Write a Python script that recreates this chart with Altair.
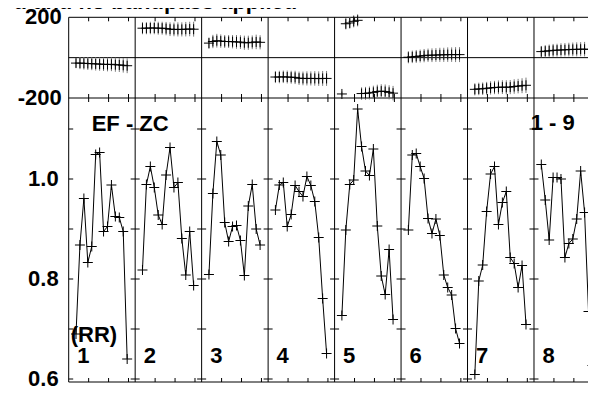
import altair as alt
import pandas as pd

# ---------------- data ----------------
TITLE_TEXT = "d and no bandpass applied"
PANEL_LABELS = ["1", "2", "3", "4", "5", "6", "7", "8"]
LEFT_LABEL = "EF - ZC"
RIGHT_LABEL = "1 - 9"
QUANTITY_LABEL = "(RR)"

# lower panel: ratio values, 14 samples per panel
RR_1 = [0.690, 0.868, 0.961, 0.833, 0.865, 1.049, 1.053, 0.895, 0.905, 0.988, 0.925, 0.923, 0.895, 0.640]
RR_2 = [0.818, 0.989, 1.025, 0.983, 0.928, 0.909, 1.008, 1.063, 0.983, 0.993, 0.881, 0.808, 0.895, 0.787]
RR_3 = [0.809, 0.971, 1.075, 1.048, 0.913, 0.875, 0.905, 0.907, 0.877, 0.807, 0.946, 0.989, 0.900, 0.868]
RR_4 = [0.938, 0.988, 0.993, 0.905, 0.929, 0.987, 0.975, 0.965, 1.005, 0.987, 0.955, 0.883, 0.761, 0.651]
RR_5 = [0.727, 0.898, 0.989, 0.998, 1.140, 1.065, 1.016, 1.007, 1.060, 0.906, 0.806, 0.769, 0.859, 0.719]
RR_6 = [0.898, 1.048, 1.051, 1.025, 1.001, 0.921, 0.891, 0.920, 0.887, 0.808, 0.783, 0.768, 0.701, 0.671]
RR_7 = [0.609, 0.796, 0.828, 0.935, 1.010, 1.025, 0.909, 0.953, 0.975, 0.843, 0.831, 0.783, 0.827, 0.709]
RR_8 = [1.029, 0.958, 0.878, 1.003, 1.003, 1.000, 0.843, 0.871, 0.880, 0.920, 1.016, 0.933, 0.735, 0.627]

# upper panel: phase values (degrees) and their error bars
PH_1 = [-27, -27, -28, -29, -30, -31, -32, -33, -34, -33, -35, -36, -38, -40]
PH_2 = [146, 146, 147, 147, 146, 146, 144, 141, 140, 140, 140, 141, 142, 141]
PH_3 = [72, 80, 84, 82, 80, 80, 79, 78, 77, 74, 74, 76, 78, 76]
PH_4 = [-96, -96, -95, -96, -97, -98, -102, -103, -103, -103, -103, -104, -103, -103]
PH_5 = [-180, 168, 172, 180, 185, -178, -177, -175, -172, -168, -166, -168, -172, -176]
PH_6 = [2, 4, 6, 8, 10, 12, 12, 13, 14, 14, 15, 15, 15, 15]
PH_7 = [-157, -155, -154, -152, -150, -148, -147, -146, -147, -146, -143, -141, -139, -137]
PH_8 = [30, 32, 34, 36, 37, 38, 39, 40, 41, 41, 42, 42, 41, 41]

ERR_1 = [22, 30, 31, 32, 32, 33, 33, 33, 34, 34, 35, 35, 36, 37]
ERR_2 = [30, 30, 31, 31, 32, 32, 33, 34, 34, 35, 35, 36, 36, 37]
ERR_3 = [28, 33, 34, 33, 32, 32, 33, 34, 34, 35, 35, 34, 36, 35]
ERR_4 = [30, 31, 31, 32, 32, 33, 33, 34, 35, 35, 36, 36, 37, 37]
ERR_5 = [12, 28, 28, 30, 30, 31, 32, 32, 33, 34, 34, 35, 35, 36]
ERR_6 = [30, 31, 32, 32, 33, 33, 34, 34, 35, 35, 36, 36, 37, 37]
ERR_7 = [30, 31, 31, 32, 33, 33, 34, 34, 35, 35, 36, 36, 37, 38]
ERR_8 = [28, 30, 31, 32, 32, 33, 33, 34, 34, 35, 35, 36, 36, 37]

BOTTOM_TICKS = [0.6, 0.7, 0.8, 0.9, 1.0, 1.1]
BOTTOM_LABELS = [0.6, 0.8, 1.0]
TOP_LABELS = [200, -200]
TOP_LINES = [200, 0, -200]

RR_COLS = [RR_1, RR_2, RR_3, RR_4, RR_5, RR_6, RR_7, RR_8]
PH_COLS = [PH_1, PH_2, PH_3, PH_4, PH_5, PH_6, PH_7, PH_8]
ERR_COLS = [ERR_1, ERR_2, ERR_3, ERR_4, ERR_5, ERR_6, ERR_7, ERR_8]

# ---------------- layout ----------------
W = 519.3          # svg-contained plot width (px); marks continue to the window edge
W_VIS = 527.3      # plot width visible up to the window edge
H = 364.7          # total plot height (px)
HT = 80.7          # height of the upper panel (px)
PX_PER_UNIT = 6.647
UNITS = W / PX_PER_UNIT
UNITS_VIS = W_VIS / PX_PER_UNIT
COL_W = 10.0       # panel width in x units
S0 = 1.1           # first sample offset inside a panel
SSTEP = 0.592      # sample spacing
BOT_MIN, BOT_MAX = 0.594, 1.162
FONT = "Liberation Sans"
PLUS = "M-1,0L1,0M0,-1L0,1"

rows_b, rows_t = [], []
for c, (rr, ph, er) in enumerate(zip(RR_COLS, PH_COLS, ERR_COLS)):
    for i in range(len(rr)):
        x = c * COL_W + S0 + i * SSTEP
        rows_b.append({"col": c + 1, "x": x, "v": rr[i]})
        rows_t.append({"col": c + 1, "x": x, "ph": ph[i],
                       "lo": ph[i] - er[i], "hi": ph[i] + er[i]})
df_b = pd.DataFrame(rows_b)
df_t = pd.DataFrame(rows_t)

bounds = [k * COL_W for k in range(9) if k * COL_W <= UNITS_VIS]
df_bounds = pd.DataFrame({"x": bounds})
df_minor = pd.DataFrame({"x": [b + o for b in bounds for o in (3, 6, 9) if b + o <= UNITS_VIS]})
half = 4.5 / PX_PER_UNIT
df_yt = pd.DataFrame([
    {"x": max(b - half, 0), "x2": b + half, "y": t}
    for b in bounds for t in BOTTOM_TICKS
])
df_hl_top = pd.DataFrame({"y": TOP_LINES})
df_hl_bot = pd.DataFrame({"y": [BOT_MIN]})
df_lab_b = pd.DataFrame({"y": BOTTOM_LABELS})
df_lab_t = pd.DataFrame({"y": TOP_LABELS, "t": [str(v) for v in TOP_LABELS]})
df_num = pd.DataFrame({"label": PANEL_LABELS,
                       "x": [k * COL_W + 1.28 for k in range(len(PANEL_LABELS))]})

xs = alt.Scale(domain=[0, UNITS], nice=False, zero=False)
ys_top = alt.Scale(domain=[-200, 200], range=[HT, 0], nice=False, zero=False)
ys_bot = alt.Scale(domain=[BOT_MIN, BOT_MAX], range=[H, HT], nice=False, zero=False)

X = alt.X("x:Q", scale=xs, axis=None)

vlines = alt.Chart(df_bounds).mark_rule(color="black", strokeWidth=1).encode(
    x=X, y=alt.value(0), y2=alt.value(H))
hl_top = alt.Chart(df_hl_top).mark_rule(color="black", strokeWidth=1).encode(
    x=alt.value(0), x2=alt.value(W_VIS), y=alt.Y("y:Q", scale=ys_top, axis=None))
hl_bot = alt.Chart(df_hl_bot).mark_rule(color="black", strokeWidth=1).encode(
    x=alt.value(0), x2=alt.value(W_VIS), y=alt.Y("y:Q", scale=ys_bot, axis=None))

tick_top = alt.Chart(df_minor).mark_rule(color="black", strokeWidth=1).encode(
    x=X, y=alt.value(0), y2=alt.value(4))
tick_mid = alt.Chart(df_minor).mark_rule(color="black", strokeWidth=1).encode(
    x=X, y=alt.value(HT - 4), y2=alt.value(HT + 4))
tick_bot = alt.Chart(df_minor).mark_rule(color="black", strokeWidth=1).encode(
    x=X, y=alt.value(H - 4), y2=alt.value(H))
ytick = alt.Chart(df_yt).mark_rule(color="black", strokeWidth=1).encode(
    x=X, x2="x2:Q", y=alt.Y("y:Q", scale=ys_bot, axis=None))

err = alt.Chart(df_t).mark_rule(color="#7a7a7a", strokeWidth=1).encode(
    x=X, y=alt.Y("lo:Q", scale=ys_top, axis=None), y2="hi:Q")
pts_top = alt.Chart(df_t).mark_point(shape=PLUS, filled=False, size=100, color="black",
                                     strokeWidth=1, opacity=1).encode(
    x=X, y=alt.Y("ph:Q", scale=ys_top, axis=None))

line_b = alt.Chart(df_b).mark_line(color="black", strokeWidth=1).encode(
    x=X, y=alt.Y("v:Q", scale=ys_bot, axis=None), detail="col:N")
pts_b = alt.Chart(df_b).mark_point(shape=PLUS, filled=False, size=100, color="black",
                                   strokeWidth=1, opacity=1).encode(
    x=X, y=alt.Y("v:Q", scale=ys_bot, axis=None))

txt = dict(font=FONT, fontWeight="bold", fontSize=22, color="black")
lab_b = alt.Chart(df_lab_b).mark_text(align="right", baseline="middle", **txt).encode(
    x=alt.value(-10), y=alt.Y("y:Q", scale=ys_bot, axis=None),
    text=alt.Text("y:Q", format=".1f"))
lab_t = alt.Chart(df_lab_t).mark_text(align="right", baseline="middle", **txt).encode(
    x=alt.value(-7), y=alt.Y("y:Q", scale=ys_top, axis=None), text="t:N")

nums = alt.Chart(df_num).mark_text(align="left", baseline="alphabetic", **txt).encode(
    x=X, y=alt.value(345.7), text="label:N")
ann_left = alt.Chart(pd.DataFrame({"t": [LEFT_LABEL]})).mark_text(
    align="left", baseline="alphabetic", **txt).encode(
    x=alt.value(23), y=alt.value(113.7), text="t:N")
ann_right = alt.Chart(pd.DataFrame({"t": [RIGHT_LABEL]})).mark_text(
    align="left", baseline="alphabetic", **txt).encode(
    x=alt.value(462), y=alt.value(112.7), text="t:N")
ann_q = alt.Chart(pd.DataFrame({"t": [QUANTITY_LABEL]})).mark_text(
    align="left", baseline="alphabetic", **txt).encode(
    x=alt.value(2), y=alt.value(324.5), text="t:N")
title = alt.Chart(pd.DataFrame({"t": [TITLE_TEXT]})).mark_text(
    align="right", baseline="alphabetic", **txt).encode(
    x=alt.value(228.5), y=alt.value(-7.8), text="t:N")

chart = alt.layer(
    vlines, hl_top, hl_bot, tick_top, tick_mid, tick_bot, ytick,
    err, pts_top, line_b, pts_b, lab_b, lab_t, nums, ann_left, ann_right, ann_q, title
).resolve_scale(y="independent").properties(
    width=W, height=H,
    autosize=alt.AutoSizeParams(type="none"),
    padding={"left": 60.7, "top": 9.3, "right": 0, "bottom": 14},
    background="white",
).configure_view(stroke=None)

chart.save("out.html", embed_options={"renderer": "svg", "actions": False})
